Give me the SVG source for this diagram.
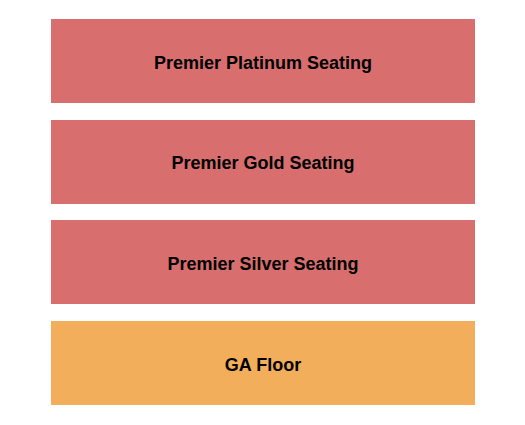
<svg xmlns="http://www.w3.org/2000/svg" width="525" height="425" viewBox="0 0 525 425">
<style>
.sec{fill:#d86f6e}
.ga{fill:#f3ae5b}
.lbl{font-family:"Liberation Sans",Arial,sans-serif;font-weight:bold;font-size:18px;fill:#000;text-anchor:middle;dominant-baseline:central}
</style>
<rect width="525" height="425" fill="#fff"/>
<g id="platinum"><rect class="sec" x="51" y="19" width="424" height="84"/><text class="lbl" x="263" y="63">Premier Platinum Seating</text></g>
<g id="gold"><rect class="sec" x="51" y="120" width="424" height="84"/><text class="lbl" x="263" y="163">Premier Gold Seating</text></g>
<g id="silver"><rect class="sec" x="51" y="220" width="424" height="84"/><text class="lbl" x="263" y="264">Premier Silver Seating</text></g>
<g id="gafloor"><rect class="ga" x="51" y="321" width="424" height="84"/><text class="lbl" x="263" y="365">GA Floor</text></g>
<g id="connectors"/>
</svg>
